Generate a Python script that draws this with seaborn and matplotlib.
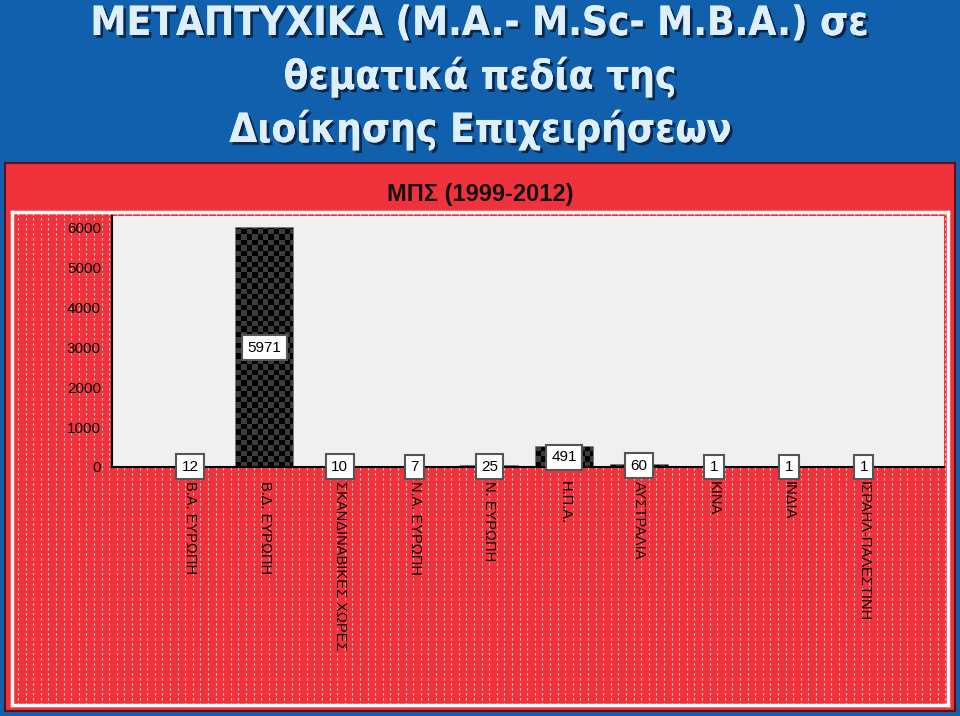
import numpy as np
import pandas as pd
import matplotlib
matplotlib.use('Agg')
import matplotlib.pyplot as plt
import matplotlib.patheffects as pe
import seaborn as sns

# Δεδομένα (ΜΠΣ 1999-2012 ανά περιοχή)
regions = ['Β.Α. ΕΥΡΩΠΗ', 'Β.Δ. ΕΥΡΩΠΗ', 'ΣΚΑΝΔΙΝΑΒΙΚΕΣ ΧΩΡΕΣ', 'Ν.Α. ΕΥΡΩΠΗ',
           'Ν. ΕΥΡΩΠΗ', 'Η.Π.Α.', 'ΑΥΣΤΡΑΛΙΑ', 'ΚΙΝΑ', 'ΙΝΔΙΑ', 'ΙΣΡΑΗΛ-ΠΑΛΕΣΤΙΝΗ']
counts = [12, 5971, 10, 7, 25, 491, 60, 1, 1, 1]
y_ticks = [0, 1000, 2000, 3000, 4000, 5000, 6000]

header_lines = ['ΜΕΤΑΠΤΥΧΙΚΑ (M.A.- M.Sc- M.B.A.) σε',
                'θεματικά πεδία της',
                'Διοίκησης Επιχειρήσεων']
chart_title = 'ΜΠΣ (1999-2012)'

df = pd.DataFrame({'region': regions, 'count': counts})

W, H = 960, 716
BLUE = '#1060ad'
RED = '#f0323c'
PLOT_BG = '#f0f0f0'

sns.set_style('white')
plt.rcParams['font.family'] = ['Liberation Sans', 'DejaVu Sans']
plt.rcParams['text.color'] = 'black'
plt.rcParams['xtick.color'] = 'black'
plt.rcParams['ytick.color'] = 'black'


def fig_rect(x0, y0, x1, y1):
    # pixel box (top-left origin) -> figure fraction
    return [x0 / W, 1 - y1 / H, (x1 - x0) / W, (y1 - y0) / H]


fig = plt.figure(figsize=(W / 100, H / 100), dpi=100, facecolor=BLUE)

# επικεφαλίδα
for i, line in enumerate(header_lines):
    fig.text(0.5, 1 - (24 + 53 * i) / H, line, ha='center', va='center',
             fontsize=29, fontweight='bold', fontstretch='condensed', color='#dceffb',
             family='DejaVu Sans',
             path_effects=[pe.withSimplePatchShadow(offset=(2, -2), shadow_rgbFace='#0a2040', alpha=0.9),
                           pe.Normal()])

# κόκκινο πλαίσιο
panel = fig.add_axes(fig_rect(5, 163, 955, 711))
panel.set_facecolor(RED)
panel.set_xticks([])
panel.set_yticks([])
for s in panel.spines.values():
    s.set_color('#5a1015')
    s.set_linewidth(1.5)
panel.set_zorder(0)

fig.text(0.5, 1 - 194 / H, chart_title, ha='center', va='center',
         fontsize=17, fontweight='bold', color='#111111', zorder=10)

# φόντο με διακεκομμένες γραμμές
bg = fig.add_axes(fig_rect(12, 212, 948, 705))
bg.set_facecolor(RED)
bg.set_xlim(0, 936)
bg.set_ylim(0, 493)
bg.vlines(np.arange(6, 936, 7.6), 0, 493, colors='white', alpha=0.75,
          linewidth=0.8, linestyles=(0, (2, 2.5)))
bg.set_xticks([])
bg.set_yticks([])
for s in bg.spines.values():
    s.set_color('white')
    s.set_linewidth(2.5)
bg.set_zorder(1)

# κύριο διάγραμμα
ax = fig.add_axes(fig_rect(112, 216, 944, 467))
ax.set_zorder(2)
ax.set_facecolor(PLOT_BG)
sns.barplot(data=df, x='region', y='count', ax=ax, color='black',
            width=0.76, edgecolor='#666666', linewidth=1.2, saturation=1)

# σκακιέρα μέσα σε κάθε μπάρα
cell = 5.4
for p in ax.patches:
    x0, w = p.get_x(), p.get_width()
    nx = int(57 / cell) + 2
    ny = int(251 / cell) + 2
    board = (np.add.outer(np.arange(ny), np.arange(nx)) % 2).astype(float)
    bw_units = nx * cell / 57 * w
    bh_units = ny * cell * 6280 / 251
    im = ax.imshow(board, cmap=matplotlib.colors.ListedColormap(['#000000', '#3c3c3c']),
                   extent=(x0, x0 + bw_units, 0, bh_units), origin='lower',
                   interpolation='nearest', aspect='auto', zorder=2)
    im.set_clip_path(p)
ax.set_xlim(-1.04, 10.07)
ax.set_ylim(0, 6280)

# ετικέτες τιμών
for i, v in enumerate(counts):
    ax.text(i, v / 2, str(v), ha='center', va='center', fontsize=11, zorder=5,
            bbox=dict(boxstyle='square,pad=0.35', facecolor='white',
                      edgecolor='#555555', linewidth=1.5))

ax.set_yticks(y_ticks)
ax.set_yticklabels([str(t) for t in y_ticks], fontsize=11)
ax.set_xticks(range(len(regions)))
ax.set_xticklabels(regions, rotation=-90, fontsize=10.5, va='top', ha='center')
ax.tick_params(axis='y', direction='out', length=7, width=1.2, color='black', pad=1)
ax.tick_params(axis='x', direction='out', length=6, width=1, color='black', pad=4)
ax.set_xlabel('')
ax.set_ylabel('')
for s in ['top', 'right']:
    ax.spines[s].set_visible(False)
for s in ['left', 'bottom']:
    ax.spines[s].set_color('black')
    ax.spines[s].set_linewidth(1.5)

fig.savefig('out.png', dpi=100, facecolor=BLUE)
